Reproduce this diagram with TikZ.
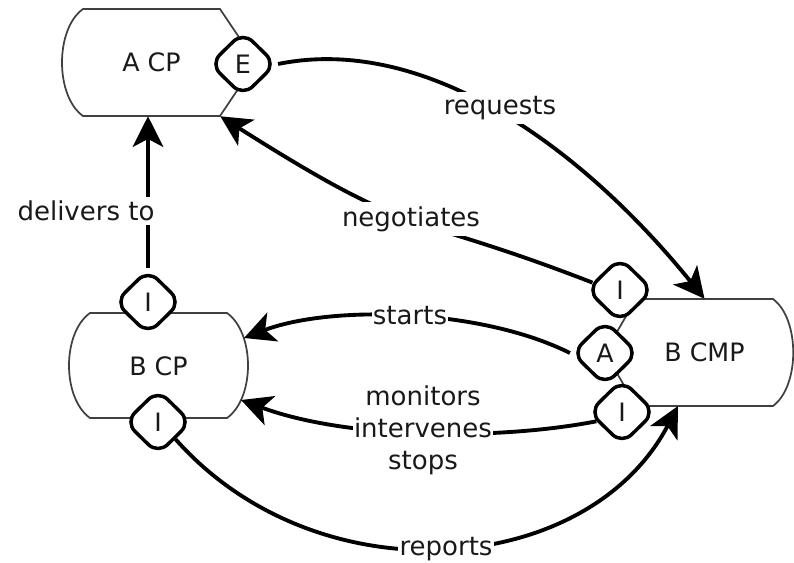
\documentclass[tikz,border=0pt]{standalone}
\usepackage{fontspec}
\setmainfont{DejaVu Sans}
\usetikzlibrary{arrows.meta,shapes.geometric}
\tikzset{
        outline/.style={draw=black!75, line width=1.3pt},
        proc/.style={inner sep=0pt, text=black!90, font=\fontsize{19}{22}\selectfont},
        port/.style={diamond, draw, line width=2.6pt, fill=white, rounded corners=10pt, minimum width=50pt, minimum height=49pt, inner sep=0pt, text=black!90, font=\fontsize{19}{22}\selectfont},
        flow/.style={line width=2.9pt, -{Stealth[length=23pt,width=23pt,inset=6pt]}},
        lbl/.style={fill=white, inner xsep=1pt, inner ysep=3pt, text=black!90, font=\fontsize{19.5}{24}\selectfont, align=center}
}
\begin{document}
\begin{tikzpicture}[x=0.75pt,y=-0.75pt]
        \useasboundingbox (0,0) rectangle (794,563);

        \draw[outline] (83,9) -- (220,9) -- (256,62.5) -- (220,116) -- (83,116) .. controls (55,96) and (55,29) .. (83,9) -- cycle;
        \draw[outline] (90,313) -- (227,313) .. controls (255,333) and (255,398) .. (227,418) -- (90,418) .. controls (62,398) and (62,333) .. (90,313) -- cycle;
        \draw[outline] (636,299) -- (773,299) .. controls (800,319) and (800,386) .. (773,406) -- (636,406) -- (605,352.5) -- cycle;

        \node[proc, minimum width=102.75pt, minimum height=80.25pt] (acp) at (151.5,62.5) {A CP};
        \node[proc, minimum width=102.75pt, minimum height=78.75pt] (bcp) at (158.5,366) {B CP};
        \node[proc, minimum width=102.75pt, minimum height=80.25pt] (bcmp) at (704.5,352.5) {B CMP};

        \node[port] (acpE) at (243,64) {E};
        \node[port] (bcpI1) at (148,302) {I};
        \node[port] (bcpI2) at (158,422) {I};
        \node[port] (bcmpI1) at (620,290) {I};
        \node[port] (bcmpA) at (605,353) {A};
        \node[port] (bcmpI2) at (622,412) {I};

        \coordinate (bcpin1) at (244,338);
        \coordinate (bcpin2) at (241,400);
        \coordinate (bcmpin) at (678,406);

        \draw[flow] (bcpI1.north) -- (bcpI1.north |- acp.south);
        \draw[flow] (acpE.east) .. controls (420,35) and (575,139) .. (bcmp.north);
        \draw[flow] (bcmpI1.165) .. controls (403,209) and (422,244) .. (acp.south east);
        \draw[flow] (bcmpA.west) .. controls (480,308) and (330,305) .. (bcpin1);
        \draw[flow] (bcmpI2.200) .. controls (500,440) and (350,440) .. (bcpin2);
        \draw[flow] (bcpI2.south east) .. controls (318,600) and (588,578) .. (bcmpin);

        \node[lbl] (lbldel) at (86,211) {delivers to};
        \node[lbl] (lblreq) at (500,108) {requests};
        \node[lbl] (lblneg) at (411,219) {negotiates};
        \node[lbl] (lblsta) at (410,316) {starts};
        \node[lbl] (lblmon) at (423,430) {monitors\\intervenes\\stops};
        \node[lbl] (lblrep) at (446,549) {reports};
\end{tikzpicture}
\end{document}
